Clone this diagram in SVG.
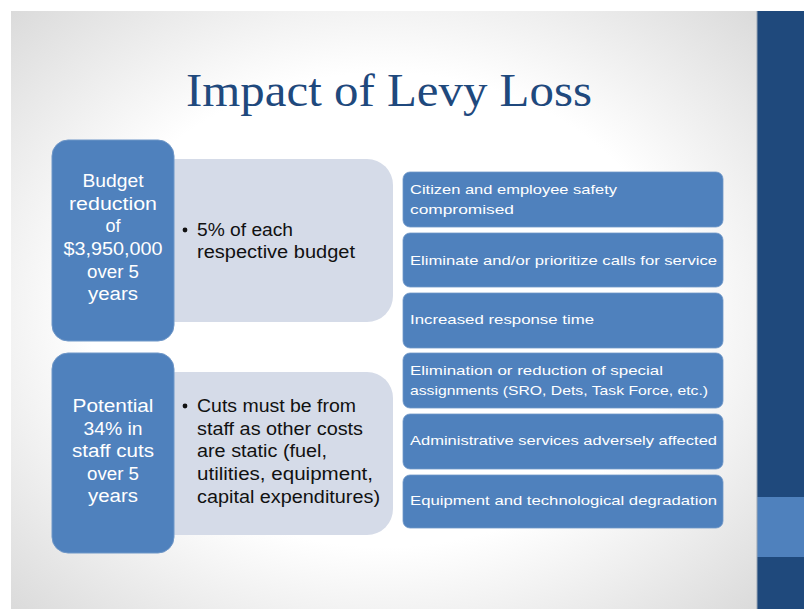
<svg xmlns="http://www.w3.org/2000/svg" width="804" height="609" viewBox="0 0 804 609">
<defs>
<radialGradient id="bg" cx="50%" cy="50%" r="72%">
<stop offset="0.55" stop-color="#ffffff"/>
<stop offset="1" stop-color="#d9d9d9"/>
</radialGradient>
<style>
.dark{fill:#4f81bd;stroke:#6f97c8;stroke-width:1}
.light{fill:#d5dbe8}
.item{fill:#4f81bd;stroke:#6f97c8;stroke-width:0.8}
.lt{font-family:"Liberation Sans",Arial,sans-serif;font-size:18px;fill:#ffffff;text-anchor:middle}
.mt{font-family:"Liberation Sans",Arial,sans-serif;font-size:17.5px;fill:#111111}
.rt{font-family:"Liberation Sans",Arial,sans-serif;font-size:13.5px;fill:#ffffff}
.title{font-family:"Liberation Serif","Times New Roman",serif;font-size:46px;fill:#1f497d;text-anchor:middle}
</style>
</defs>
<rect x="0" y="0" width="804" height="609" fill="#ffffff"/>
<rect x="11" y="11" width="746" height="598" fill="url(#bg)"/>
<rect x="757" y="11" width="47" height="598" fill="#1f497c"/>
<rect x="757" y="497" width="47" height="60" fill="#4f81bd"/>
<line x1="757" y1="11" x2="757" y2="609" stroke="#9aa6b4" stroke-width="1"/>

<text class="title" x="389" y="106" textLength="406" lengthAdjust="spacingAndGlyphs">Impact of Levy Loss</text>

<g id="connectors"/>

<g id="detail1">
<rect class="light" x="150" y="159" width="243" height="163" rx="26"/>
<circle cx="185" cy="230" r="2.4" fill="#111"/>
<text class="mt" x="197" y="236" textLength="96" lengthAdjust="spacingAndGlyphs">5% of each</text>
<text class="mt" x="197" y="258" textLength="158" lengthAdjust="spacingAndGlyphs">respective budget</text>
</g>
<g id="budget">
<rect class="dark" x="52" y="140" width="122" height="201" rx="16"/>
<text class="lt" x="113" y="187" textLength="61" lengthAdjust="spacingAndGlyphs">Budget</text>
<text class="lt" x="113" y="210" textLength="88" lengthAdjust="spacingAndGlyphs">reduction</text>
<text class="lt" x="113" y="232">of</text>
<text class="lt" x="113" y="255" textLength="99" lengthAdjust="spacingAndGlyphs">$3,950,000</text>
<text class="lt" x="113" y="278" textLength="52" lengthAdjust="spacingAndGlyphs">over 5</text>
<text class="lt" x="113" y="300" textLength="50" lengthAdjust="spacingAndGlyphs">years</text>
</g>

<g id="detail2">
<rect class="light" x="150" y="372" width="243" height="163" rx="26"/>
<circle cx="185" cy="406" r="2.4" fill="#111"/>
<text class="mt" x="197" y="412" textLength="159" lengthAdjust="spacingAndGlyphs">Cuts must be from</text>
<text class="mt" x="197" y="435" textLength="166" lengthAdjust="spacingAndGlyphs">staff as other costs</text>
<text class="mt" x="197" y="457" textLength="130" lengthAdjust="spacingAndGlyphs">are static (fuel,</text>
<text class="mt" x="197" y="480" textLength="176" lengthAdjust="spacingAndGlyphs">utilities, equipment,</text>
<text class="mt" x="197" y="503" textLength="183" lengthAdjust="spacingAndGlyphs">capital expenditures)</text>
</g>
<g id="staff">
<rect class="dark" x="52" y="353" width="122" height="200" rx="16"/>
<text class="lt" x="113" y="412" textLength="81" lengthAdjust="spacingAndGlyphs">Potential</text>
<text class="lt" x="113" y="435" textLength="59" lengthAdjust="spacingAndGlyphs">34% in</text>
<text class="lt" x="113" y="457" textLength="82" lengthAdjust="spacingAndGlyphs">staff cuts</text>
<text class="lt" x="113" y="480" textLength="52" lengthAdjust="spacingAndGlyphs">over 5</text>
<text class="lt" x="113" y="502" textLength="50" lengthAdjust="spacingAndGlyphs">years</text>
</g>

<g id="r1">
<rect class="item" x="403" y="172" width="320" height="55" rx="7"/>
<text class="rt" x="410" y="194" textLength="207" lengthAdjust="spacingAndGlyphs">Citizen and employee safety</text>
<text class="rt" x="410" y="214" textLength="104" lengthAdjust="spacingAndGlyphs">compromised</text>
</g>
<g id="r2">
<rect class="item" x="403" y="233" width="320" height="54" rx="7"/>
<text class="rt" x="410" y="265" textLength="307" lengthAdjust="spacingAndGlyphs">Eliminate and/or prioritize calls for service</text>
</g>
<g id="r3">
<rect class="item" x="403" y="293" width="320" height="55" rx="7"/>
<text class="rt" x="410" y="324" textLength="184" lengthAdjust="spacingAndGlyphs">Increased response time</text>
</g>
<g id="r4">
<rect class="item" x="403" y="353" width="320" height="55" rx="7"/>
<text class="rt" x="410" y="375" textLength="253" lengthAdjust="spacingAndGlyphs">Elimination or reduction of special</text>
<text class="rt" x="410" y="395" textLength="298" lengthAdjust="spacingAndGlyphs">assignments (SRO, Dets, Task Force, etc.)</text>
</g>
<g id="r5">
<rect class="item" x="403" y="414" width="320" height="55" rx="7"/>
<text class="rt" x="410" y="445" textLength="307" lengthAdjust="spacingAndGlyphs">Administrative services adversely affected</text>
</g>
<g id="r6">
<rect class="item" x="403" y="475" width="320" height="53" rx="7"/>
<text class="rt" x="410" y="505" textLength="307" lengthAdjust="spacingAndGlyphs">Equipment and technological degradation</text>
</g>
</svg>
